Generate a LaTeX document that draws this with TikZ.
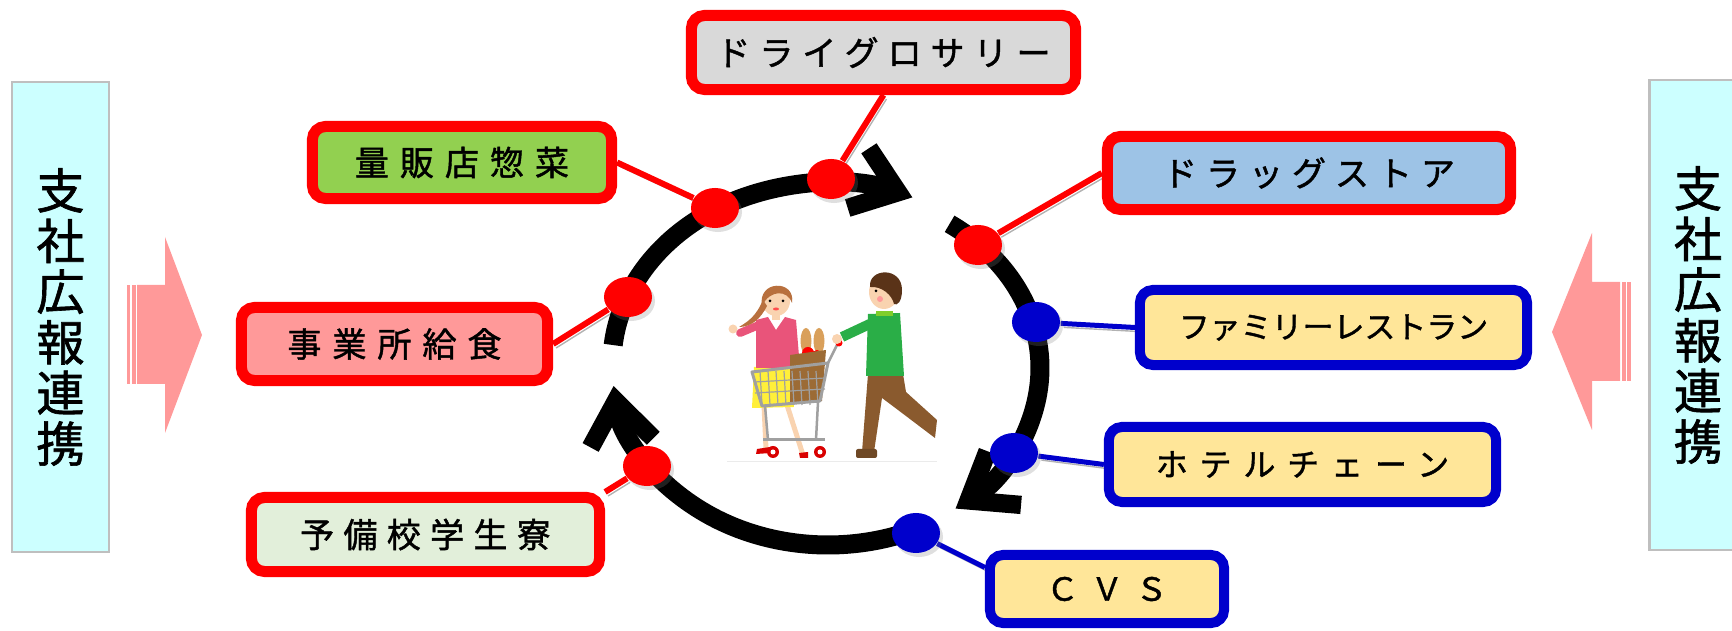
\documentclass[tikz,border=0pt]{standalone}
\usepackage{fontspec}
\newfontfamily\jp[FakeBold=1.3]{Noto Sans CJK JP}
\usetikzlibrary{positioning}
\usetikzlibrary{arrows.meta}
\usetikzlibrary{shapes.geometric}
\usetikzlibrary{shadows}
\definecolor{cred}{HTML}{FF0000}
\definecolor{cblue}{HTML}{0000CC}
\definecolor{cgray}{HTML}{D9D9D9}
\definecolor{cgreen}{HTML}{92D050}
\definecolor{cpink}{HTML}{FF9999}
\definecolor{cmint}{HTML}{E2EFDA}
\definecolor{csky}{HTML}{9DC3E6}
\definecolor{cyellow}{HTML}{FFE699}
\definecolor{cpanel}{HTML}{CCFFFF}
\definecolor{cpanelline}{HTML}{BFBFBF}
\definecolor{skin}{HTML}{F9D3B0}
\definecolor{hairw}{HTML}{B8703E}
\definecolor{hairm}{HTML}{5A3318}
\definecolor{shirtw}{HTML}{E9547A}
\definecolor{skirtw}{HTML}{FFEF3A}
\definecolor{shirtm}{HTML}{2AAE47}
\definecolor{pantsm}{HTML}{8A5A2E}
\definecolor{bag}{HTML}{9C6B35}
\definecolor{bread}{HTML}{D9A05B}
\definecolor{frame}{HTML}{A0A0A0}
\pgfdeclarelayer{back}
\pgfsetlayers{back,main}
\tikzset{
    boxr/.style = {rectangle, rounded corners=0.13cm, line width=0.11cm, draw=cred, minimum height=0.74cm, align=center, font=\jp\fontsize{9.7pt}{11pt}\selectfont},
    boxb/.style = {rectangle, rounded corners=0.13cm, line width=0.10cm, draw=cblue, fill=cyellow, minimum height=0.75cm, align=center, font=\jp\fontsize{9.1pt}{11pt}\selectfont},
    track/.style = {execute at begin node={\addfontfeature{LetterSpace=#1}}},
    dotr/.style = {ellipse, fill=cred, minimum width=0.48cm, minimum height=0.40cm, inner sep=0pt, drop shadow={shadow xshift=0.03cm, shadow yshift=-0.04cm, opacity=0.25}},
    dotb/.style = {dotr, fill=cblue},
    edger/.style = {-, line width=0.06cm, cred, preaction={draw, black!30, transform canvas={shift={(3,4)}}}},
    edgeb/.style = {-, line width=0.05cm, cblue, preaction={draw, black!30, transform canvas={shift={(3,4)}}}},
    cycle/.style = {line width=0.19cm, black, -{Straight Barb[length=12pt, width=18pt, line width=5.2pt]}},
    panel/.style = {rectangle, draw=cpanelline, line width=0.025cm, fill=cpanel, minimum width=0.97cm, minimum height=4.70cm, align=center, font=\jp\fontsize{13.7pt}{14.4pt}\selectfont},
    bigarrow/.style = {fill=cpink},
}

\begin{document}
\begin{tikzpicture}[x=0.01cm, y=-0.01cm]
\clip (0,0) rectangle (1732,631);

% side panels and block arrows
\node[panel] at (60.5,317) (pl) {支\\社\\広\\報\\連\\携};
\node[panel] at (1698,315) (pr) {支\\社\\広\\報\\連\\携};
\fill[bigarrow] (137,285) -- (165,285) -- (165,237) -- (202,335) -- (165,433) -- (165,384) -- (137,384) -- cycle;
\fill[bigarrow] (127,285) rectangle (130,384);
\fill[bigarrow] (131.5,285) rectangle (135.5,384);
\fill[bigarrow] (1620,282) -- (1592,282) -- (1592,233) -- (1552,332) -- (1592,430) -- (1592,381) -- (1620,381) -- cycle;
\fill[bigarrow] (1621.5,282) rectangle (1625.5,381);
\fill[bigarrow] (1627,282) rectangle (1631,381);

% cycle
\draw[cycle] ([shift={(186:216 and 181)}]828,364) arc[start angle=186, end angle=293, x radius=216, y radius=181];
\draw[cycle] ([shift={(-55:212 and 176)}]828,368) arc[start angle=-55, end angle=53, x radius=212, y radius=176];
\draw[cycle] ([shift={(63:216 and 181)}]828,364) arc[start angle=63, end angle=173, x radius=216, y radius=181];

% shoppers
\begin{scope}
\draw[black!8, line width=0.01cm] (727,462) -- (937,462);
% woman
\draw[skin, line width=0.05cm] (764,405) -- (766,449);
\draw[skin, line width=0.05cm] (787,405) -- (803,455);
\fill[cred!85!black] (757,449) -- (770,447) -- (771,453) -- (756,454) -- cycle;
\fill[cred!85!black] (799,453) -- (808,452) -- (808,458) -- (800,458) -- cycle;
\fill[skirtw] (754,367) -- (791,367) -- (794,407) -- (752,408) -- cycle;
\fill[skin] (772,310) rectangle (780,320);
\fill[shirtw] (756,320) -- (768,317) -- (776,330) -- (785,317) -- (796,320) -- (800,368) -- (756,368) -- cycle;
\draw[shirtw, line width=0.08cm, line cap=round] (759,325) -- (740,333);
\fill[skin] (733,329) circle (4.5);
\fill[skin] (776,301) ellipse (14 and 15);
\fill[hairw] (762,306) .. controls (757,280) and (796,279) .. (792,303) .. controls (788,290) and (770,289) .. cycle;
\fill[hairw] (763,300) .. controls (756,316) and (749,321) .. (739,327) .. controls (752,327) and (761,318) .. (767,306) -- cycle;
\fill[black] (770,301) circle (1.5) (783,301) circle (1.5);
\fill[cred!70] (776,309) ellipse (3 and 1.5);
% cart
\fill[bread] (806,341) ellipse (5.5 and 13);
\fill[bread] (819,341) ellipse (5.5 and 13);
\fill[cred] (808,353) circle (6) (817,355) circle (5);
\fill[bag] (790,355) -- (826,350) -- (822,401) -- (790,403) -- cycle;
\foreach \gx in {760,768,...,816}
    \draw[frame, line width=0.012cm] (\gx,371) -- (\gx+2,405);
\foreach \gy in {382,393}
    \draw[frame, line width=0.012cm] (755,\gy) -- (825,\gy-4);
\draw[frame, line width=0.03cm, line join=round] (752,372) -- (828,363) -- (820,401) -- (762,406) -- cycle;
\draw[frame, line width=0.025cm] (828,363) -- (838,343);
\fill[cred] (839,343) circle (3.5);
\draw[frame, line width=0.025cm] (818,402) -- (816,440) (765,406) -- (768,440);
\draw[frame, line width=0.03cm] (763,440) -- (825,440);
\foreach \wx in {773,820} {
    \fill[cred!85!black] (\wx,452) circle (6);
    \fill[white] (\wx,452) circle (2.5);
}
% man
\fill[pantsm] (868,374) -- (903,374) -- (906,392) -- (937,420) -- (935,438) -- (898,410) -- (882,398) -- (874,452) -- (862,452) -- cycle;
\fill[pantsm!80!black, rounded corners=0.02cm] (856,449) rectangle (877,458);
\fill[shirtm] (868,314) -- (900,313) -- (904,376) -- (866,376) -- cycle;
\fill[shirtm!60!yellow] (876,311) rectangle (893,316);
\draw[shirtm, line width=0.10cm] (874,322) -- (842,337);
\fill[skin] (837,339) circle (5);
\fill[skin] (884,292) ellipse (15 and 17);
\fill[hairm] (870,287) .. controls (868,268) and (902,266) .. (902,290) .. controls (902,302) and (897,306) .. (894,304) .. controls (892,295) and (882,286) .. cycle;
\fill[black] (876,291) circle (1.5);
\fill[cred!40] (880,299) circle (3);
\end{scope}

% markets on the cycle
\node[dotr] at (715,208) (dsouzai) {};
\node[dotr] at (831,179) (ddry) {};
\node[dotr] at (628,297) (dkyushoku) {};
\node[dotr] at (647,466) (dryo) {};
\node[dotr] at (978,245) (ddrug) {};
\node[dotb] at (1036,322) (dfamily) {};
\node[dotb] at (1014,453) (dhotel) {};
\node[dotb] at (916,533) (dcvs) {};
%
\node[boxr, fill=cgray, minimum width=3.84cm, track=26] at (883.5,52.5) (dry) {ドライグロサリー};
\node[boxr, fill=cgreen, minimum width=2.99cm, minimum height=0.72cm, track=32] at (462,162.5) (souzai) {量販店惣菜};
\node[boxr, fill=cpink, minimum width=3.06cm, minimum height=0.73cm, track=32] at (394.5,344) (kyushoku) {事業所給食};
\node[boxr, fill=cmint, minimum width=3.48cm, track=27] at (425.5,534.5) (ryo) {予備校学生寮};
\node[boxr, fill=csky, minimum width=4.03cm, minimum height=0.73cm, track=26] at (1309,173) (drug) {ドラッグストア};
\node[boxb, minimum width=3.87cm, font=\jp\fontsize{8.8pt}{11pt}\selectfont] at (1333.5,327.5) (family) {ファミリーレストラン};
\node[boxb, minimum width=3.87cm, track=37] at (1302.5,464.5) (hotel) {ホテルチェーン};
\node[boxb, minimum width=2.34cm, minimum height=0.68cm, track=39] at (1107,589) (cvs) {ＣＶＳ};

\begin{pgfonlayer}{back}
\draw[edger] (souzai.east) -- (dsouzai);
\draw[edger] (dry.south) -- (ddry);
\draw[edger] (kyushoku.east) -- (dkyushoku);
\draw[edger] (ryo.north east) -- (dryo);
\draw[edger] (drug.west) -- (ddrug);
\draw[edgeb] (family.west) -- (dfamily);
\draw[edgeb] (hotel.west) -- (dhotel);
\draw[edgeb] (cvs.170) -- (dcvs);
\end{pgfonlayer}
\end{tikzpicture}
\end{document}
